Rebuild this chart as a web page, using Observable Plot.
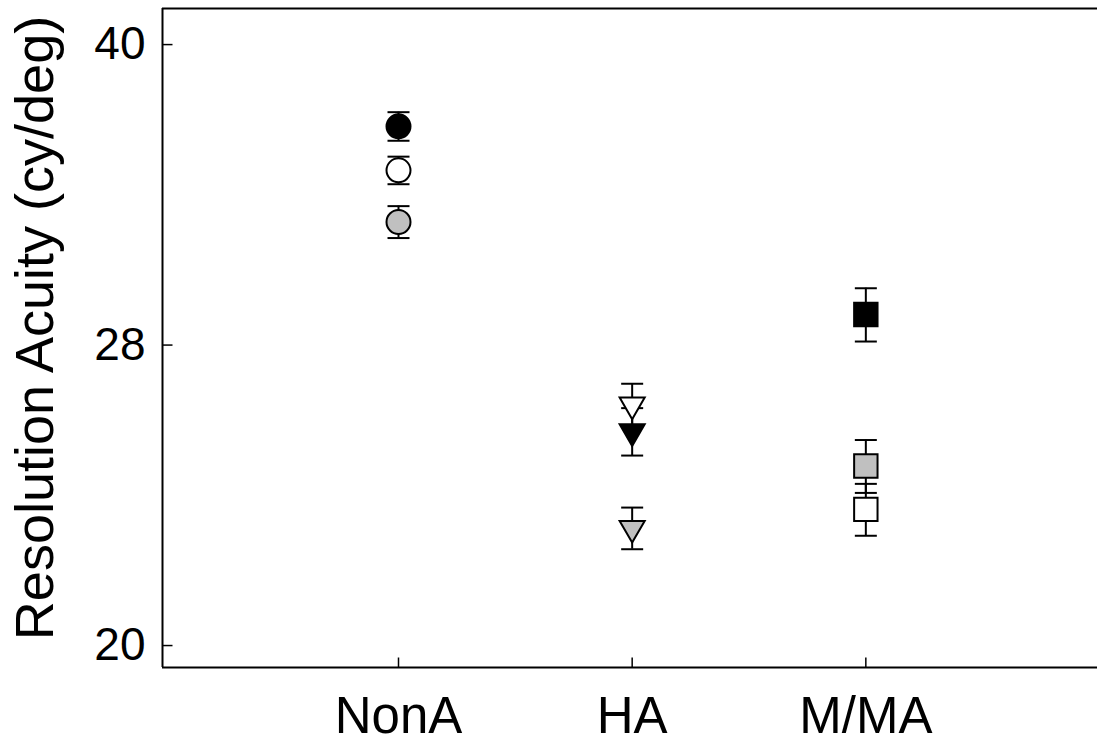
<!DOCTYPE html>
<html>
<head>
<meta charset="utf-8">
<script src="https://cdn.jsdelivr.net/npm/d3@7"></script>
<script src="https://cdn.jsdelivr.net/npm/@observablehq/plot@0.6"></script>
<style>
  html, body { margin: 0; padding: 0; background: #fff; }
  svg { display: block; }
</style>
</head>
<body>
<script>
// ---- data ----
const groups = ["NonA", "HA", "M/MA"];
const blackMean = [36.4, 25.6, 29.3];
const blackErr  = [0.6, 0.7, 0.9];
const whiteMean = [34.6, 26.4, 23.4];
const whiteErr  = [0.55, 0.65, 0.7];
const grayMean  = [32.6, 22.9, 24.6];
const grayErr   = [0.6, 0.55, 0.75];
const groupShapes = ["circle", "triangleDown", "square"];
const yTicks = [20, 20 * Math.SQRT2, 40];
const yLabel = "Resolution Acuity (cy/deg)";

// ---- table built from the arrays ----
const fills = {black: "#000000", white: "#ffffff", gray: "#c0c0c0"};
const rows = groups.flatMap((g, i) => [
  {g, i, pos: i + 1, shape: groupShapes[i], fill: fills.black, mean: blackMean[i], err: blackErr[i]},
  {g, i, pos: i + 1, shape: groupShapes[i], fill: fills.white, mean: whiteMean[i], err: whiteErr[i]},
  {g, i, pos: i + 1, shape: groupShapes[i], fill: fills.gray,  mean: grayMean[i],  err: grayErr[i]}
]);

// ---- custom symbols (shapes only) ----
const half = (size) => Math.sqrt(size / Math.PI);
const capSymbol = {draw(ctx, size) { const r = half(size); ctx.moveTo(-r, 0); ctx.lineTo(r, 0); }};
const tickRight = {draw(ctx, size) { const r = half(size); ctx.moveTo(0, 0); ctx.lineTo(r, 0); }};
const tickUp = {draw(ctx, size) { const r = half(size); ctx.moveTo(0, 0); ctx.lineTo(0, -r); }};
const triDown = {draw(ctx, size) {
  const y = Math.sqrt(size / (3 * Math.sqrt(3)));
  ctx.moveTo(0, 2 * y);
  ctx.lineTo(-Math.sqrt(3) * y, -y);
  ctx.lineTo(Math.sqrt(3) * y, -y);
  ctx.closePath();
}};

const xMin = -0.01, yMin = 19.5, yMax = 41.7;

const chart = Plot.plot({
  width: 1097,
  height: 745,
  marginLeft: 162,
  marginRight: 0,
  marginTop: 8,
  marginBottom: 78,
  style: {fontFamily: "'Liberation Sans', Arial, Helvetica, sans-serif", color: "#000", background: "#fff"},
  x: {type: "linear", domain: [xMin, 4], range: [162, 1099], label: null},
  y: {type: "log", domain: [yMin, yMax], label: null},
  marks: [
    // frame: left, bottom, top
    Plot.ruleX([xMin], {stroke: "#000", strokeWidth: 2}),
    Plot.ruleY([yMin, yMax], {stroke: "#000", strokeWidth: 2}),
    // inward ticks
    Plot.dot(yTicks, {x: () => xMin, y: d => d, symbol: tickRight, r: 10, stroke: "#000", strokeWidth: 1.5, fill: "none"}),
    Plot.dot(groups, {x: (d, i) => i + 1, y: () => yMin, symbol: tickUp, r: 10, stroke: "#000", strokeWidth: 1.5, fill: "none"}),
    // axis labels
    Plot.axisY({ticks: yTicks, tickSize: 0, tickPadding: 17, fontSize: 46, tickFormat: d => String(Math.round(d)), label: null}),
    Plot.axisX({ticks: [1, 2, 3], tickSize: 0, tickPadding: 29, fontSize: 51, tickFormat: d => groups[d - 1], label: null}),
    Plot.text([yLabel], {frameAnchor: "left", textAnchor: "middle", lineAnchor: "middle", rotate: -90, dx: -127, dy: -10, fontSize: 54, text: d => d, fill: "#000"}),
    // error bars
    Plot.ruleX(rows, {x: "pos", y1: d => d.mean - d.err, y2: d => d.mean + d.err, stroke: "#000", strokeWidth: 2}),
    Plot.dot(rows, {x: "pos", y: d => d.mean + d.err, symbol: capSymbol, r: 11, stroke: "#000", strokeWidth: 2, fill: "none"}),
    Plot.dot(rows, {x: "pos", y: d => d.mean - d.err, symbol: capSymbol, r: 11, stroke: "#000", strokeWidth: 2, fill: "none"}),
    // markers
    Plot.dot(rows.filter(d => d.shape === "circle"), {x: "pos", y: "mean", r: 12, symbol: "circle", fill: d => d.fill, stroke: "#000", strokeWidth: 2}),
    Plot.dot(rows.filter(d => d.shape === "triangleDown"), {x: "pos", y: "mean", r: 9.3, symbol: triDown, fill: d => d.fill, stroke: "#000", strokeWidth: 2}),
    Plot.dot(rows.filter(d => d.shape === "square"), {x: "pos", y: "mean", r: 13.2, symbol: "square", fill: d => d.fill, stroke: "#000", strokeWidth: 2})
  ]
});
document.body.appendChild(chart);
</script>
</body>
</html>
